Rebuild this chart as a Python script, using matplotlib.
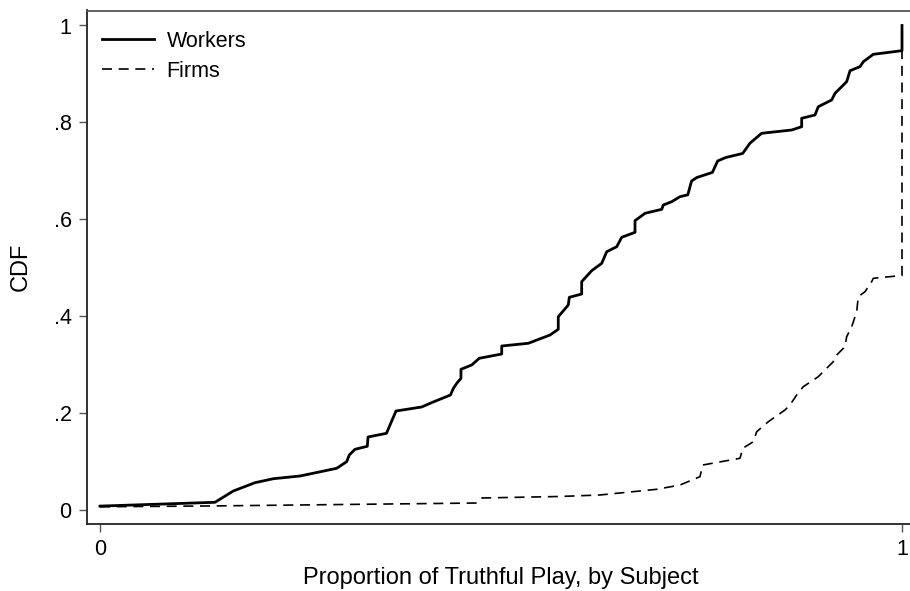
import matplotlib
matplotlib.use("Agg")
import matplotlib.pyplot as plt

plt.rcParams['font.family'] = ['Liberation Sans', 'DejaVu Sans']

# Workers CDF (x = proportion of truthful play, y = CDF)
workers_x = [0.0, 0.1434, 0.1662, 0.1933, 0.2161, 0.2494, 0.2951, 0.3076, 0.3108, 0.3180,
             0.3333, 0.3342, 0.3572, 0.3616, 0.3691, 0.4011, 0.4140, 0.4370, 0.4405, 0.4448,
             0.4501, 0.4501, 0.4635, 0.4729, 0.5009, 0.5009, 0.5340, 0.5611, 0.5714, 0.5714,
             0.5839, 0.5852, 0.6006, 0.6006, 0.6131, 0.6256, 0.6318, 0.6443, 0.6505, 0.6671,
             0.6671, 0.6796, 0.7004, 0.7024, 0.7129, 0.7232, 0.7329, 0.7376, 0.7440, 0.7636,
             0.7701, 0.7799, 0.8014, 0.8105, 0.8250, 0.8625, 0.8749, 0.8749, 0.8915, 0.8956,
             0.9123, 0.9165, 0.9310, 0.9352, 0.9476, 0.9518, 0.9642, 1.0, 1.0]
workers_y = [0.007, 0.0149, 0.0382, 0.0554, 0.0636, 0.0692, 0.0851, 0.0988, 0.1126, 0.1244,
             0.1306, 0.1498, 0.1574, 0.1746, 0.2035, 0.2118, 0.2211, 0.2366, 0.2500, 0.2607,
             0.2711, 0.2897, 0.2986, 0.3124, 0.3213, 0.3378, 0.3434, 0.3605, 0.3723, 0.3983,
             0.4225, 0.4384, 0.4452, 0.4707, 0.4934, 0.5087, 0.5326, 0.5430, 0.5624, 0.5727,
             0.5967, 0.6120, 0.6202, 0.6291, 0.6360, 0.6463, 0.6502, 0.6787, 0.6858, 0.6965,
             0.7200, 0.7271, 0.7357, 0.7570, 0.7773, 0.7841, 0.7909, 0.8083, 0.8151, 0.8322,
             0.8461, 0.8599, 0.8839, 0.9066, 0.9149, 0.9252, 0.9405, 0.948, 1.0]

# Firms CDF
firms_x = [0.0, 0.1434, 0.4701, 0.4763, 0.5736, 0.6234, 0.6941, 0.7232, 0.7481, 0.7515,
           0.7980, 0.8014, 0.8146, 0.8188, 0.8333, 0.8541, 0.8603, 0.8687, 0.8769, 0.8956,
           0.9143, 0.9165, 0.9289, 0.9310, 0.9373, 0.9435, 0.9455, 0.9539, 0.9622, 0.9642,
           1.0, 1.0]
firms_y = [0.0056, 0.0074, 0.0134, 0.0238, 0.0269, 0.0300, 0.0417, 0.0506, 0.0678, 0.0919,
           0.1058, 0.1264, 0.1401, 0.1607, 0.1814, 0.2056, 0.2159, 0.2366, 0.2537, 0.2744,
           0.3054, 0.3157, 0.3364, 0.3570, 0.3777, 0.4087, 0.4397, 0.4500, 0.4707, 0.4777,
           0.4835, 1.0]

y_ticks = [0, 0.2, 0.4, 0.6, 0.8, 1]
y_ticklabels = ['0', '.2', '.4', '.6', '.8', '1']
x_ticks = [0, 1]
x_ticklabels = ['0', '1']

fig = plt.figure(figsize=(9.10, 5.91), dpi=100)
ax = fig.add_axes([87/910, 1 - 523.7/591, (915 - 87)/910, (523.7 - 10.5)/591])

ax.plot(workers_x, workers_y, color='black', lw=2.0, ls='-', label='Workers',
        solid_joinstyle='round')
ax.plot(firms_x, firms_y, color='black', lw=1.2, ls=(0, (6, 4)), label='Firms')

ax.set_xlim(-13/802, 815/802)
ax.set_ylim(-(523.7 - 509.5)/484, (509.5 - 10.5)/484)

ax.set_xticks(x_ticks)
ax.set_xticklabels(x_ticklabels)
ax.set_yticks(y_ticks)
ax.set_yticklabels(y_ticklabels)

for s in ['left', 'bottom', 'top']:
    ax.spines[s].set_color('#222222')
    ax.spines[s].set_linewidth(1.3)
ax.spines['top'].set_color('#555555')
ax.spines['right'].set_visible(False)

ax.tick_params(axis='both', direction='out', length=6, width=1, color='#555555',
               labelsize=15.5, pad=5)

ax.set_xlabel('Proportion of Truthful Play, by Subject', fontsize=17, labelpad=5)
ax.set_ylabel('CDF', fontsize=17, labelpad=16)

leg = ax.legend(loc='upper left', frameon=False, fontsize=15.5, handlelength=2.4,
                handletextpad=0.6, labelspacing=0.42, borderaxespad=0.3,
                bbox_to_anchor=(0.0, 0.99))

fig.savefig('out.png', dpi=100)
